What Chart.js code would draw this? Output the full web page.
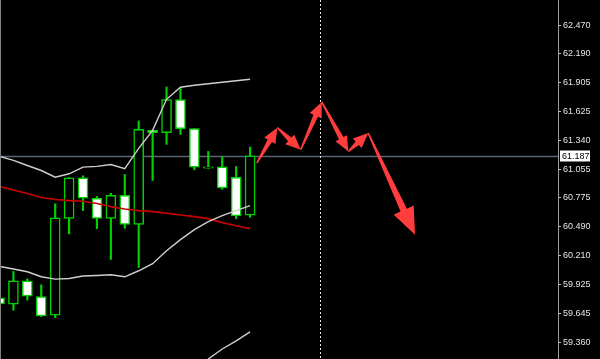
<!DOCTYPE html>
<html><head><meta charset="utf-8">
<script src="https://cdn.jsdelivr.net/npm/chart.js@4/dist/chart.umd.min.js"></script>
<style>html,body{margin:0;padding:0;background:#000;}canvas{display:block;}</style>
</head><body>
<canvas id="c" width="600" height="359"></canvas>
<script>
// ---- data ----
const barIndex = [0,1,2,3,4,5,6,7,8,9,10,11,12,13,14,15,16,17,18];
const opens  = [59.795,59.733,59.963,59.808,59.625,60.575,60.972,60.772,60.575,60.801,60.516,61.438,61.415,61.739,61.454,61.067,61.081,60.978,60.605];
const highs  = [59.810,60.054,59.982,59.923,60.717,60.975,60.992,60.789,60.821,61.005,61.529,61.440,61.863,61.848,61.457,61.231,61.179,61.084,61.273];
const lows   = [59.720,59.674,59.773,59.612,59.602,60.422,60.651,60.474,60.172,60.477,60.093,60.946,61.300,61.398,61.051,61.065,60.860,60.572,60.585];
const closes = [59.736,59.963,59.812,59.619,60.579,60.972,60.772,60.575,60.801,60.516,61.447,61.415,61.739,61.454,61.077,61.081,60.874,60.599,61.187];
const bbUpper  = [61.182,61.143,61.093,61.044,60.978,61.012,61.077,61.084,61.103,61.061,61.261,61.438,61.742,61.860,61.880,61.895,61.910,61.924,61.939];
const bbMiddle = [60.103,60.078,60.051,60.002,59.979,59.985,60.009,60.015,60.022,60.002,60.061,60.130,60.258,60.366,60.464,60.543,60.602,60.651,60.700];
const bbLowerIndex = [14,15,16,17,18];
const bbLower  = [59.048,59.196,59.294,59.373,59.461];
const maRed    = [60.887,60.852,60.818,60.779,60.759,60.749,60.742,60.720,60.690,60.666,60.651,60.641,60.626,60.607,60.592,60.572,60.533,60.503,60.474];
const yTicks = [62.470,62.190,61.905,61.625,61.340,61.055,60.775,60.490,60.210,59.925,59.645,59.360];
const currentPrice = 61.187;
const cursorBar = 23;
const arrowPathX = [18.48,19.96,21.64,23.15,25.06,26.49,29.85];
const arrowPathY = [61.116,61.464,61.248,61.716,61.231,61.411,60.415];

// ---- chart ----
const GREEN = '#00d200';
const bodies = barIndex.map(i => ({x:i, y:[opens[i], closes[i]]}));
const wicks  = barIndex.map(i => ({x:i, y:[lows[i], highs[i]]}));
const bodyFill = barIndex.map(i => closes[i] >= opens[i] ? '#000000' : '#ffffff');
const line = (xs, ys) => xs.map((x,k) => ({x:x, y:ys[k]}));

function drawArrow(ctx, x0, y0, x1, y1, hl, hwFull, swFull, twFull) {
  const dx = x1-x0, dy = y1-y0, L = Math.hypot(dx,dy);
  const ux = dx/L, uy = dy/L, nx = -uy, ny = ux;
  const hw = hwFull/2, sw = swFull/2, tw = twFull/2;
  const bx = x1-ux*hl, by = y1-uy*hl;
  ctx.beginPath();
  ctx.moveTo(x0+nx*tw, y0+ny*tw);
  ctx.lineTo(bx+nx*sw, by+ny*sw);
  ctx.lineTo(bx+nx*hw, by+ny*hw);
  ctx.lineTo(x1, y1);
  ctx.lineTo(bx-nx*hw, by-ny*hw);
  ctx.lineTo(bx-nx*sw, by-ny*sw);
  ctx.lineTo(x0-nx*tw, y0-ny*tw);
  ctx.closePath();
  ctx.fill();
}

const overlay = {
  id: 'overlay',
  beforeDatasetsDraw(chart) {
    const {ctx, chartArea:a, scales:{x, y}} = chart;
    ctx.save();
    const py = Math.round(y.getPixelForValue(currentPrice)) + 0.5;
    ctx.strokeStyle = '#5a6472';
    ctx.lineWidth = 1.5;
    ctx.beginPath(); ctx.moveTo(a.left, py); ctx.lineTo(a.right, py); ctx.stroke();
    const cx = Math.round(x.getPixelForValue(cursorBar)) + 0.5;
    ctx.strokeStyle = '#e0e0e0';
    ctx.lineWidth = 1;
    ctx.setLineDash([2,2]);
    ctx.beginPath(); ctx.moveTo(cx, a.top); ctx.lineTo(cx, a.bottom); ctx.stroke();
    ctx.restore();
  },
  afterDatasetsDraw(chart) {
    const {ctx, chartArea:a, scales:{x, y}} = chart;
    ctx.save();
    ctx.fillStyle = '#ff3d3d';
    for (let k = 0; k < arrowPathX.length-1; k++) {
      const x0 = x.getPixelForValue(arrowPathX[k]), y0 = y.getPixelForValue(arrowPathY[k]);
      const x1 = x.getPixelForValue(arrowPathX[k+1]), y1 = y.getPixelForValue(arrowPathY[k+1]);
      const last = k === arrowPathX.length-2;
      if (last) drawArrow(ctx, x0, y0, x1, y1, 27, 22, 7, 1.5);
      else drawArrow(ctx, x0, y0, x1, y1, 15, 13, 5, 1.5);
    }
    ctx.strokeStyle = '#808080';
    ctx.lineWidth = 1;
    ctx.beginPath();
    ctx.moveTo(a.left+0.5, a.top); ctx.lineTo(a.left+0.5, a.bottom+0.5);
    ctx.lineTo(a.right, a.bottom+0.5);
    ctx.stroke();
    ctx.restore();
  },
  afterDraw(chart) {
    const {ctx, chartArea:a, scales:{y}} = chart;
    const py = y.getPixelForValue(currentPrice);
    ctx.save();
    ctx.fillStyle = '#ffffff';
    ctx.fillRect(a.right+2, Math.round(py)-5.5, 30, 11);
    ctx.fillStyle = '#000000';
    ctx.font = '9px "Liberation Sans"';
    ctx.textBaseline = 'middle';
    ctx.textAlign = 'left';
    ctx.fillText(currentPrice.toFixed(3), a.right+4, py+0.5);
    ctx.restore();
  }
};

new Chart(document.getElementById('c'), {
  type: 'bar',
  data: {
    datasets: [
      { type:'line', data: line(barIndex, bbUpper), borderColor:'#cfcfcf', borderWidth:1.4, pointRadius:0, tension:0, order:0 },
      { type:'line', data: line(barIndex, bbMiddle), borderColor:'#cfcfcf', borderWidth:1.4, pointRadius:0, tension:0, order:0 },
      { type:'line', data: line(bbLowerIndex, bbLower), borderColor:'#cfcfcf', borderWidth:1.4, pointRadius:0, tension:0, order:0 },
      { type:'line', data: line(barIndex, maRed), borderColor:'#c80000', borderWidth:1.6, pointRadius:0, tension:0, order:0 },
      { type:'bar', data: bodies, backgroundColor: bodyFill, borderColor: GREEN, borderWidth:1.5, borderSkipped:false, barThickness:10, grouped:false, order:1 },
      { type:'bar', data: wicks, backgroundColor: GREEN, borderWidth:0, barThickness:1.5, grouped:false, order:2 }
    ]
  },
  options: {
    responsive:false, animation:false, devicePixelRatio:1,
    layout:{ padding:0 },
    plugins:{ legend:{display:false}, tooltip:{enabled:false} },
    scales:{
      x:{ type:'linear', min:0.0359, max:40.122, display:false, offset:false, grid:{display:false} },
      y:{
        position:'right', min:59.1957, max:62.7158,
        afterBuildTicks: s => { s.ticks = yTicks.map(v => ({value:v})); },
        afterFit: s => { s.width = 42; s.paddingTop = 0; s.paddingBottom = 0; },
        ticks:{ color:'#e6e6e6', font:{family:'Liberation Sans', size:9}, padding:2, autoSkip:false, maxRotation:0,
                callback: v => Number(v).toFixed(3) },
        grid:{ drawOnChartArea:false, drawTicks:true, tickLength:3, color:'#c0c0c0' },
        border:{ display:true, color:'#a0a0a0', width:1 }
      }
    }
  },
  plugins:[overlay]
});
</script>
</body></html>
